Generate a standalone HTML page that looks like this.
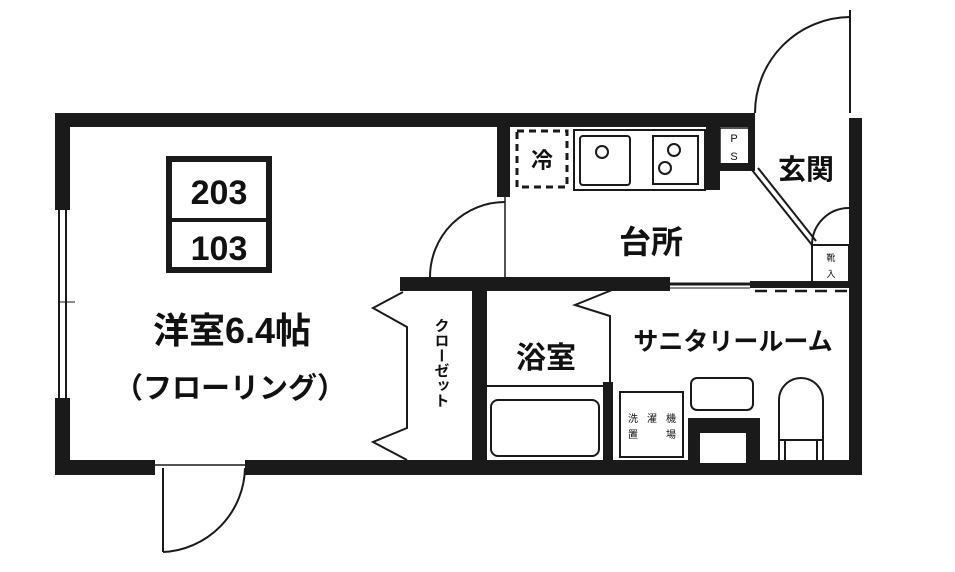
<!DOCTYPE html>
<html><head><meta charset="utf-8"><style>
html,body{margin:0;padding:0;background:#fff}
svg{display:block}
text{font-family:"Liberation Sans","Noto Sans CJK JP",sans-serif;fill:#111}
</style></head><body>
<svg width="955" height="572" viewBox="0 0 955 572" xmlns="http://www.w3.org/2000/svg">
<rect width="955" height="572" fill="#fff"/>
<g fill="#1a1a1a">
<rect x="55" y="113" width="700" height="14"/>
<rect x="55" y="113" width="15" height="97"/>
<rect x="55" y="398" width="15" height="77"/>
<rect x="55" y="460" width="100" height="15"/>
<rect x="245" y="460" width="617" height="15"/>
<rect x="849" y="118" width="13" height="357"/>
<rect x="497" y="127" width="13" height="70"/>
<rect x="400" y="277" width="270" height="14"/>
<rect x="750" y="281" width="100" height="7"/>
<rect x="472" y="277" width="15" height="198"/>
<rect x="603" y="382" width="10" height="80"/>
<rect x="706" y="127" width="14" height="63"/>
<rect x="718" y="163" width="36" height="8"/>
<rect x="748" y="113" width="7" height="58"/>
<rect x="688" y="418" width="72" height="44"/>
</g>
<g fill="none" stroke="#1a1a1a" stroke-width="2">
<line x1="59" y1="210" x2="59" y2="398"/><line x1="66" y1="210" x2="66" y2="398"/>
<line x1="60" y1="302" x2="75" y2="302" stroke-width="1"/>
<line x1="670" y1="284" x2="750" y2="284" stroke-width="3"/>
<line x1="670" y1="288" x2="750" y2="288" stroke-width="1"/>
<line x1="755" y1="291" x2="848" y2="291" stroke-dasharray="12,8" stroke-width="2.5"/>
<line x1="155" y1="465" x2="245" y2="465" stroke-width="1.5"/>
<line x1="163" y1="468" x2="163" y2="552"/>
<path d="M163 552 A86 86 0 0 0 245 468"/>
<line x1="850" y1="10" x2="850" y2="113"/>
<path d="M755 113 A96 96 0 0 1 850 17"/>
<line x1="505" y1="197" x2="505" y2="277" stroke-width="1.5"/>
<path d="M430 277 A75 75 0 0 1 505 202"/>
<rect x="169" y="159" width="100" height="111" stroke-width="6"/>
<line x1="169" y1="220" x2="269" y2="220" stroke-width="4"/>
<polyline points="403,292 373,308 407,327 407,428 373,442 407,460"/>
<line x1="487" y1="386" x2="605" y2="386"/>
<polyline points="612,290 575,305 610,316 610,383"/>
<rect x="491" y="400" width="108" height="56" rx="7"/>
<rect x="620" y="392" width="63" height="65"/>
<rect x="691" y="378" width="62" height="32" rx="6"/>
<rect x="700" y="433" width="46" height="30" fill="#fff" stroke="none"/>
<path d="M779 460 L779 400 A22 22 0 0 1 823 400 L823 460"/>
<line x1="779" y1="440" x2="823" y2="440"/>
<line x1="785" y1="440" x2="785" y2="460"/><line x1="817" y1="440" x2="817" y2="460"/>
<rect x="517" y="131" width="50" height="56" stroke-dasharray="7,5" stroke-width="3"/>
<rect x="574" y="130" width="131" height="60"/>
<rect x="580" y="136" width="50" height="49" rx="3"/>
<circle cx="602" cy="152" r="6"/>
<rect x="653" y="136" width="45" height="48"/>
<circle cx="674" cy="150" r="6"/><circle cx="665" cy="168" r="6"/>
<rect x="720" y="128" width="29" height="36" stroke-width="1.5"/>
<line x1="752" y1="170" x2="812" y2="245" stroke-width="2"/>
<line x1="758" y1="168" x2="816" y2="241" stroke-width="2"/>
<path d="M812 245 A37 37 0 0 1 849 208"/>
<rect x="812" y="245" width="37" height="38"/>
</g>
<text x="219" y="204" font-size="34" text-anchor="middle" font-weight="bold">203</text>
<text x="219" y="260" font-size="34" text-anchor="middle" font-weight="bold">103</text>
<text x="232" y="343" font-size="36" text-anchor="middle" font-weight="bold">洋室6.4帖</text>
<text x="230" y="398" font-size="29" text-anchor="middle" font-weight="bold">（フローリング）</text>
<text x="441" y="318" font-size="15" style="writing-mode:vertical-rl" font-weight="bold">クローゼット</text>
<text x="546" y="368" font-size="30" text-anchor="middle" font-weight="bold">浴室</text>
<text x="733" y="350" font-size="25" text-anchor="middle" font-weight="bold">サニタリールーム</text>
<text x="651" y="253" font-size="32" text-anchor="middle" font-weight="bold">台所</text>
<text x="806" y="179" font-size="28" text-anchor="middle" font-weight="bold">玄関</text>
<text x="542" y="168" font-size="22" text-anchor="middle" font-weight="bold">冷</text>
<text x="734" y="142" font-size="11" text-anchor="middle">P</text>
<text x="734" y="160" font-size="11" text-anchor="middle">S</text>
<text x="831" y="261" font-size="9" text-anchor="middle">靴</text>
<text x="831" y="277" font-size="9" text-anchor="middle">入</text>
<text x="633" y="422" font-size="10" text-anchor="middle">洗</text>
<text x="652" y="422" font-size="10" text-anchor="middle">濯</text>
<text x="671" y="422" font-size="10" text-anchor="middle">機</text>
<text x="633" y="438" font-size="10" text-anchor="middle">置</text>
<text x="671" y="438" font-size="10" text-anchor="middle">場</text>
</svg>
</body></html>
